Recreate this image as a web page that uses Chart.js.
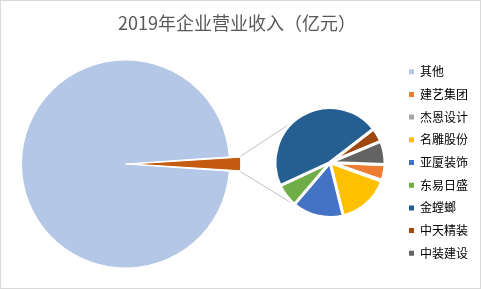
<!DOCTYPE html>
<html lang="zh-CN">
<head>
<meta charset="UTF-8">
<title>2019年企业营业收入（亿元）</title>
<script src="https://cdn.jsdelivr.net/npm/chart.js"></script>
<style>
  html, body { margin: 0; padding: 0; background: #fff; }
  .janela { position: relative; width: 481px; height: 289px; overflow: hidden; background: #fff; }
  .janela canvas { position: absolute; top: 0; }
  #graficoPrincipal { left: -105px; }
  #graficoDetalhe { left: 0; }
  .moldura { position: absolute; inset: 0; border: 1px solid #d9d9d9; pointer-events: none; }
</style>
</head>
<body>
<div class="janela">
  <canvas id="graficoPrincipal" width="586" height="289"></canvas>
  <canvas id="graficoDetalhe" width="481" height="289"></canvas>
  <div class="moldura"></div>
</div>
<script>
// dados (亿元)
const titulo = '2019年企业营业收入（亿元）';
const nomeOutros = '其他';
const valorOutros = 28900;
const empresas = ['建艺集团', '杰恩设计', '名雕股份', '亚厦装饰', '东易日盛', '金螳螂', '中天精装', '中装建设'];
const receitas = [31, 2, 102, 99, 45, 305, 27, 45];

// cores
const corOutros = '#B4C7E7';
const coresEmpresas = ['#ED7D31', '#A5A5A5', '#FFC000', '#4472C4', '#70AD47', '#255E91', '#9E480E', '#636363'];
const corSubtotal = '#C55A11';

Chart.defaults.font.family = '"Noto Sans CJK SC", "Noto Sans", sans-serif';
Chart.defaults.color = '#595959';
Chart.defaults.animation = false;

const subtotal = receitas.reduce((a, b) => a + b, 0);
const anguloSubtotal = subtotal / (subtotal + valorOutros) * 360;

const canvasPrincipal = document.getElementById('graficoPrincipal');
const canvasDetalhe = document.getElementById('graficoDetalhe');

// pizza principal: "其他" + fatia com a soma das empresas
const graficoPrincipal = new Chart(canvasPrincipal, {
    type: 'pie',
    data: {
        labels: [nomeOutros, '合计'],
        datasets: [{
            data: [valorOutros, subtotal],
            backgroundColor: [corOutros, corSubtotal],
            borderColor: '#fff',
            borderWidth: 1,
            offset: [0, 24],
            radius: 104
        }]
    },
    options: {
        responsive: false,
        events: [],
        rotation: 90 + anguloSubtotal / 2,
        layout: { padding: { left: 0, right: 125, top: 0, bottom: 4.6 } },
        plugins: {
            legend: { display: false },
            tooltip: { enabled: false },
            title: {
                display: true,
                text: titulo,
                align: 'end',
                color: '#595959',
                font: { size: 18, weight: 'normal' },
                padding: { top: 12, bottom: 10 }
            }
        }
    }
});

// linhas ligando a fatia da pizza principal com a pizza de detalhe
const linhasConectoras = {
    id: 'linhasConectoras',
    beforeDatasetsDraw(chart) {
        const fatia = graficoPrincipal.getDatasetMeta(0).data[1];
        const detalhe = chart.getDatasetMeta(0).data[0];
        if (!fatia || !detalhe) return;
        const dx = canvasPrincipal.offsetLeft - canvasDetalhe.offsetLeft;
        const desloc = (fatia.options.offset || 0) / 4;
        const meio = (fatia.startAngle + fatia.endAngle) / 2;
        const ajuste = 1 - Math.sin(Math.min(Math.PI, fatia.circumference));
        const raio = fatia.outerRadius + desloc * ajuste;
        const cx = fatia.x + dx + Math.cos(meio) * desloc;
        const cy = fatia.y + Math.sin(meio) * desloc;
        const cantos = [fatia.startAngle, fatia.endAngle]
            .map(a => [cx + Math.cos(a) * raio, cy + Math.sin(a) * raio]);
        const alvos = [Math.PI + 48 * Math.PI / 180, Math.PI - 51 * Math.PI / 180]
            .map(a => [detalhe.x + Math.cos(a) * detalhe.outerRadius, detalhe.y + Math.sin(a) * detalhe.outerRadius]);
        const ctx = chart.ctx;
        ctx.save();
        ctx.strokeStyle = '#BFBFBF';
        ctx.lineWidth = 1;
        for (let i = 0; i < 2; i++) {
            ctx.beginPath();
            ctx.moveTo(cantos[i][0], cantos[i][1]);
            ctx.lineTo(alvos[i][0], alvos[i][1]);
            ctx.stroke();
        }
        ctx.restore();
    }
};

const graficoDetalhe = new Chart(canvasDetalhe, {
    type: 'pie',
    data: {
        labels: empresas,
        datasets: [{
            data: receitas,
            backgroundColor: coresEmpresas,
            borderColor: '#fff',
            borderWidth: 3,
            radius: 55
        }]
    },
    options: {
        responsive: false,
        events: [],
        rotation: 92,
        layout: { padding: { left: 261.7, right: 3, top: 49, bottom: 13 } },
        plugins: {
            tooltip: { enabled: false },
            title: { display: false },
            legend: {
                position: 'right',
                labels: {
                    boxWidth: 5,
                    boxHeight: 5,
                    padding: 10.7,
                    color: '#595959',
                    font: { size: 12 },
                    generateLabels: () => [nomeOutros].concat(empresas).map((nome, i) => {
                        const cor = i === 0 ? corOutros : coresEmpresas[i - 1];
                        return { text: nome, fillStyle: cor, strokeStyle: cor, lineWidth: 0, hidden: false, index: i };
                    })
                }
            }
        }
    },
    plugins: [linhasConectoras]
});
</script>
</body>
</html>
